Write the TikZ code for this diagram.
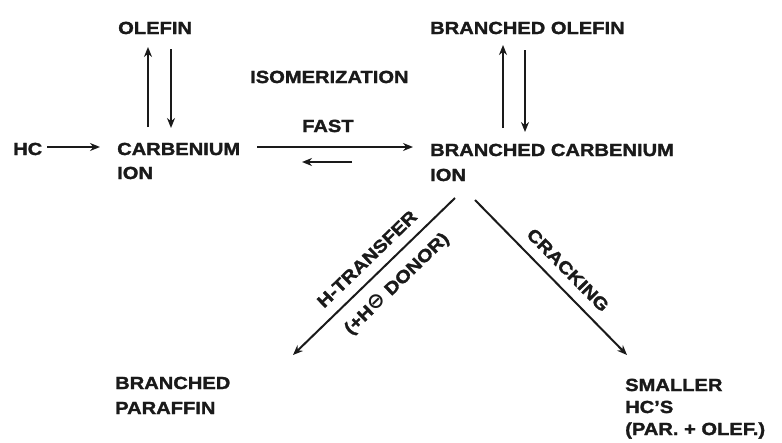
\documentclass[tikz,border=0pt]{standalone}
\usepackage{fontspec}
\setmainfont{Liberation Sans}[BoldFont={Liberation Sans Bold},BoldFeatures={FakeBold=1.6},FakeStretch=1.15]
\newfontfamily\symf{DejaVu Sans}[BoldFont={DejaVu Sans Bold}]
\usetikzlibrary{calc,arrows.meta}
\definecolor{ink}{HTML}{1A1A1A}
\begin{document}
\begin{tikzpicture}[x=1pt,y=-1pt,
  lbl/.style={anchor=base west,inner sep=0pt,font=\fontsize{17.5}{20}\selectfont\bfseries,text=ink},
  rlbl/.style={inner sep=0pt,font=\fontsize{17.5}{20}\selectfont\bfseries,text=ink},
  arr/.style={draw=ink,line width=2pt,-{Stealth[length=10pt,width=8pt]}}]
\fill[white] (0,0) rectangle (782,442);
\useasboundingbox (0,0) rectangle (782,442);
% nodes
\node[lbl] (hc) at (13,155) {HC};
\node[lbl] (carb) at (117,155) {CARBENIUM};
\node[lbl] (carbion) at (117,179) {ION};
\node[lbl] (olefin) at (118,34) {OLEFIN};
\node[lbl] (iso) at (250,83) {ISOMERIZATION};
\node[lbl] (fast) at (302,132) {FAST};
\node[lbl] (bcarb) at (430,156) {BRANCHED CARBENIUM};
\node[lbl] (bion) at (430,181) {ION};
\node[lbl] (bolef) at (430,34) {BRANCHED OLEFIN};
\node[lbl] (bpar) at (115,389) {BRANCHED};
\node[lbl] (bpar2) at (115,414) {PARAFFIN};
\node[lbl] (small) at (625,391) {SMALLER};
\node[lbl] (small2) at (625,413) {HC'S};
\node[lbl] (small3) at (625,435) {(PAR. + OLEF.)};
% connectors
\draw[arr] ($(hc.base west)+(34,-8)$) -- ($(carb.base west)+(-17,-8)$);
\draw[arr] ($(carb.base west)+(31,-28)$) -- ($(olefin.base west)+(30,13)$);
\draw[arr] ($(olefin.base west)+(53,15)$) -- ($(carb.base west)+(54,-27)$);
\draw[arr] ($(carb.base west)+(140,-8)$) -- ($(bcarb.base west)+(-17,-9)$);
\draw[arr] ($(bcarb.base west)+(-78,6)$) -- ($(carb.base west)+(185,7)$);
\draw[arr] ($(bcarb.base west)+(73,-28)$) -- ($(bolef.base west)+(73,11)$);
\draw[arr] ($(bolef.base west)+(95,16)$) -- ($(bcarb.base west)+(95,-24)$);
\draw[arr] ($(bion.base west)+(25,17)$) -- ($(bpar.base west)+(178,-34)$);
\draw[arr] ($(bion.base west)+(45,19)$) -- ($(small.base west)+(2,-36)$);
% edge labels
\node[rlbl,rotate=44] (ht) at (367,259) {H-TRANSFER};
\node[rlbl,rotate=44] (don) at (397,284) {(+H{\symf\bfseries\fontsize{21}{20}\selectfont ⊖} DONOR)};
\node[rlbl,rotate=-45.5] (crk) at (568,270) {CRACKING};
\end{tikzpicture}
\end{document}
